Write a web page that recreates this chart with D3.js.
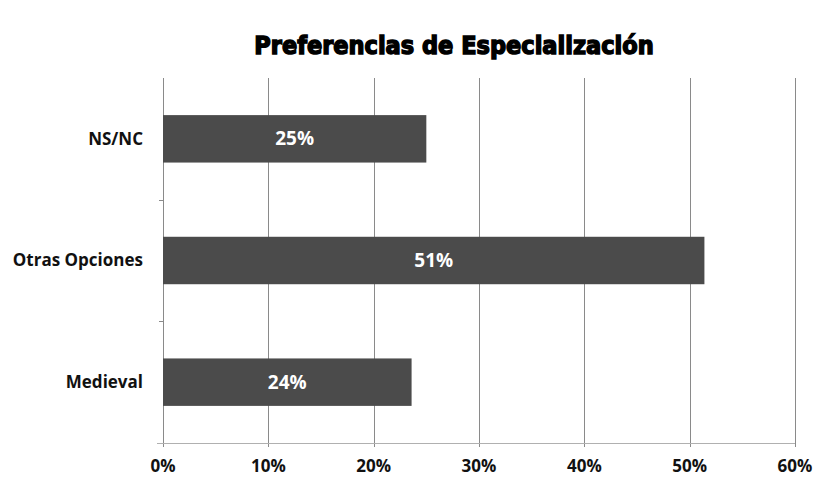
<!DOCTYPE html>
<html>
<head>
<meta charset="utf-8">
<script src="https://cdn.jsdelivr.net/npm/d3@7"></script>
<style>
  body { margin: 0; background: #fff; }
  svg { display: block; }
</style>
</head>
<body>
<script>
  // Chart data
  var categories = ["NS/NC", "Otras Opciones", "Medieval"];
  var values = [0.25, 0.514, 0.236];
  var labels = ["25%", "51%", "24%"];
  var ticks = [0, 0.1, 0.2, 0.3, 0.4, 0.5, 0.6];

  var WIDTH = 815, HEIGHT = 493;
  var plotLeft = 163, plotRight = 795, plotTop = 78, plotBottom = 443;

  var svg = d3.select("body").append("svg")
      .attr("width", WIDTH)
      .attr("height", HEIGHT);

  var x = d3.scaleLinear().domain([0, 0.6]).range([plotLeft, plotRight]);
  var y = d3.scaleBand().domain(categories).range([plotTop, plotBottom])
      .paddingInner(0.61).paddingOuter(0.305);
  var band = d3.scaleBand().domain(categories).range([plotTop, plotBottom]);

  // vertical gridlines
  svg.append("g").selectAll("line").data(ticks).enter().append("line")
      .attr("x1", function(d){ return Math.round(x(d)) + 0.5; })
      .attr("x2", function(d){ return Math.round(x(d)) + 0.5; })
      .attr("y1", plotTop).attr("y2", plotBottom + 4)
      .attr("stroke", "#8a8a8a").attr("stroke-width", 1);

  // category axis ticks
  svg.append("g").selectAll("line").data(categories.slice(1)).enter().append("line")
      .attr("x1", plotLeft - 4).attr("x2", plotLeft)
      .attr("y1", function(d){ return Math.round(band(d)) + 0.5; })
      .attr("y2", function(d){ return Math.round(band(d)) + 0.5; })
      .attr("stroke", "#8a8a8a");

  // bottom axis line
  svg.append("line")
      .attr("x1", plotLeft - 6).attr("x2", plotRight)
      .attr("y1", plotBottom + 0.5).attr("y2", plotBottom + 0.5)
      .attr("stroke", "#b0b0b0");

  // bars
  svg.append("g").selectAll("rect").data(values).enter().append("rect")
      .attr("x", x(0))
      .attr("y", function(d, i){ return y(categories[i]); })
      .attr("width", function(d){ return x(d) - x(0); })
      .attr("height", y.bandwidth())
      .attr("fill", "#4b4b4b");

  // value labels
  svg.append("g").selectAll("text").data(values).enter().append("text")
      .attr("x", function(d){ return (x(0) + x(d)) / 2; })
      .attr("y", function(d, i){ return y(categories[i]) + y.bandwidth() / 2; })
      .attr("dy", "0.35em")
      .attr("text-anchor", "middle")
      .attr("fill", "#fff")
      .style("font", "bold 19px 'Open Sans', sans-serif")
      .text(function(d, i){ return labels[i]; });

  // category labels
  svg.append("g").selectAll("text").data(categories).enter().append("text")
      .attr("x", 143)
      .attr("y", function(d){ return band(d) + band.bandwidth() / 2; })
      .attr("dy", "0.35em")
      .attr("text-anchor", "end")
      .attr("fill", "#111")
      .style("font", "bold 17px 'Open Sans', sans-serif")
      .text(function(d){ return d; });

  // tick labels
  svg.append("g").selectAll("text").data(ticks).enter().append("text")
      .attr("x", function(d){ return x(d); })
      .attr("y", 466)
      .attr("dy", "0.35em")
      .attr("text-anchor", "middle")
      .attr("fill", "#111")
      .style("font", "bold 17px 'Open Sans', sans-serif")
      .text(d3.format(".0%"));

  // title
  svg.append("text")
      .attr("x", 454).attr("y", 45)
      .attr("dy", "0.35em")
      .attr("text-anchor", "middle")
      .attr("fill", "#000")
      .attr("stroke", "#000").attr("stroke-width", 1.4)
      .style("font", "bold 25px 'DejaVu Sans Condensed', 'DejaVu Sans', sans-serif")
      .text("Preferencias de Especialización");
</script>
</body>
</html>
